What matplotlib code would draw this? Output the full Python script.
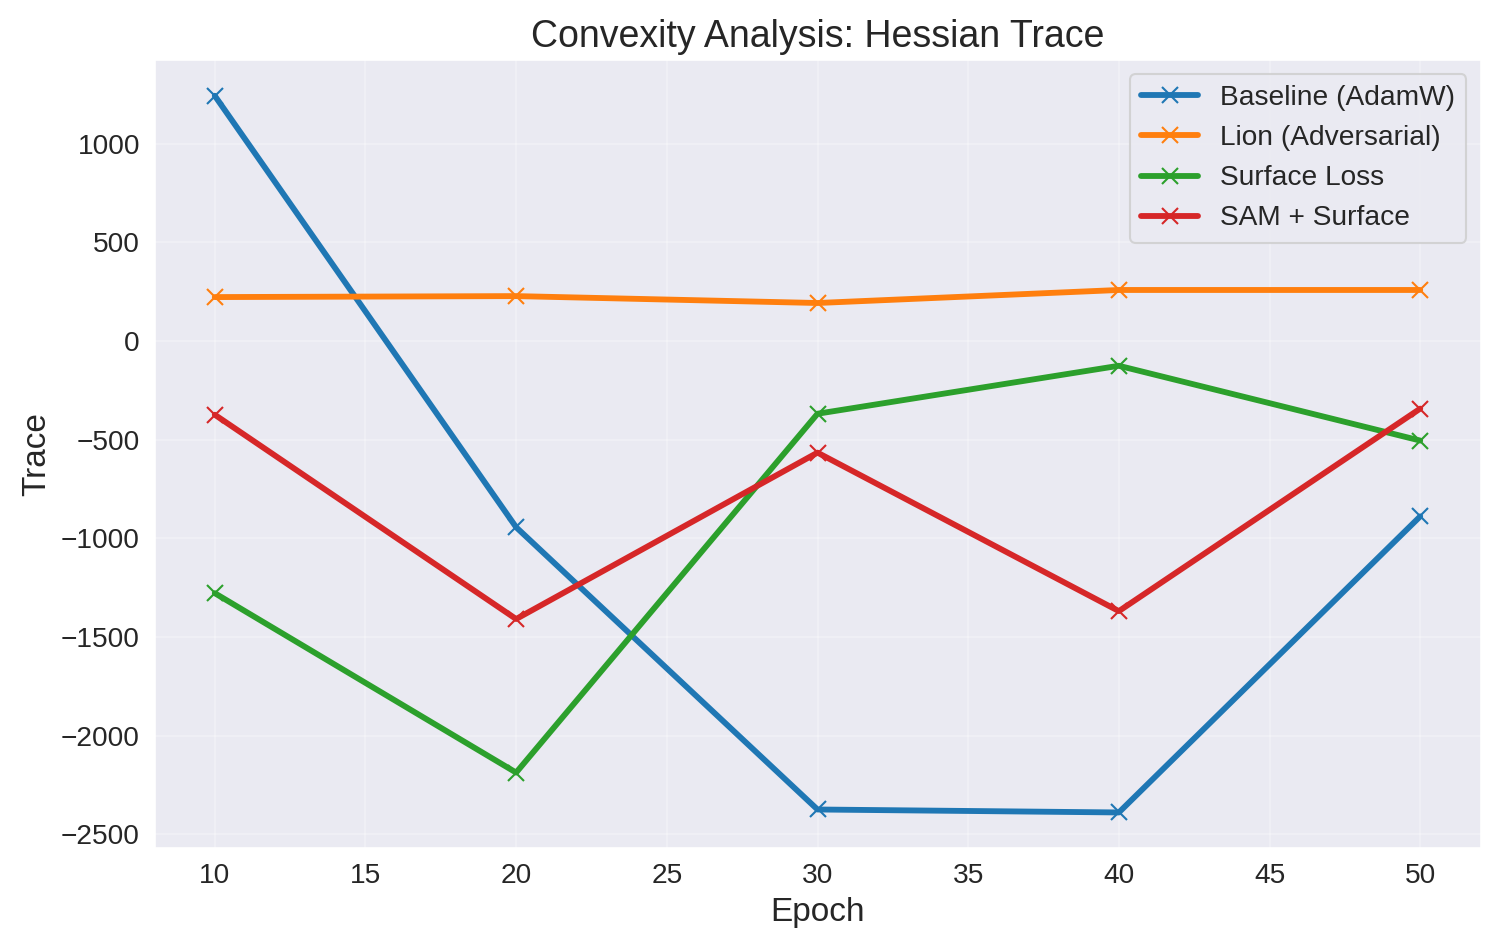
import matplotlib
matplotlib.use("Agg")
import matplotlib.pyplot as plt
import seaborn as sns

epochs = [10, 20, 30, 40, 50]
baseline = [1242, -944, -2374, -2389, -889]
lion = [222, 227, 192, 258, 258]
surface = [-1278, -2187, -369, -126, -505]
sam_surface = [-374, -1409, -566, -1369, -343]

sns.set_style("darkgrid")
plt.rcParams["font.family"] = ["Liberation Sans", "DejaVu Sans"]

fig, ax = plt.subplots(figsize=(10, 6.34))
ax.plot(epochs, baseline, marker="x", markersize=8, linewidth=2.8, color="tab:blue", label="Baseline (AdamW)")
ax.plot(epochs, lion, marker="x", markersize=8, linewidth=2.8, color="tab:orange", label="Lion (Adversarial)")
ax.plot(epochs, surface, marker="x", markersize=8, linewidth=2.8, color="tab:green", label="Surface Loss")
ax.plot(epochs, sam_surface, marker="x", markersize=8, linewidth=2.8, color="tab:red", label="SAM + Surface")

ax.set_title("Convexity Analysis: Hessian Trace", fontsize=18)
ax.set_xlabel("Epoch", fontsize=16)
ax.set_ylabel("Trace", fontsize=16)
ax.tick_params(labelsize=13.5)
ax.legend(fontsize=13.5)
ax.grid(True, alpha=0.3)

fig.subplots_adjust(left=0.103, right=0.987, top=0.937, bottom=0.108)
plt.savefig("out.png", dpi=150)
